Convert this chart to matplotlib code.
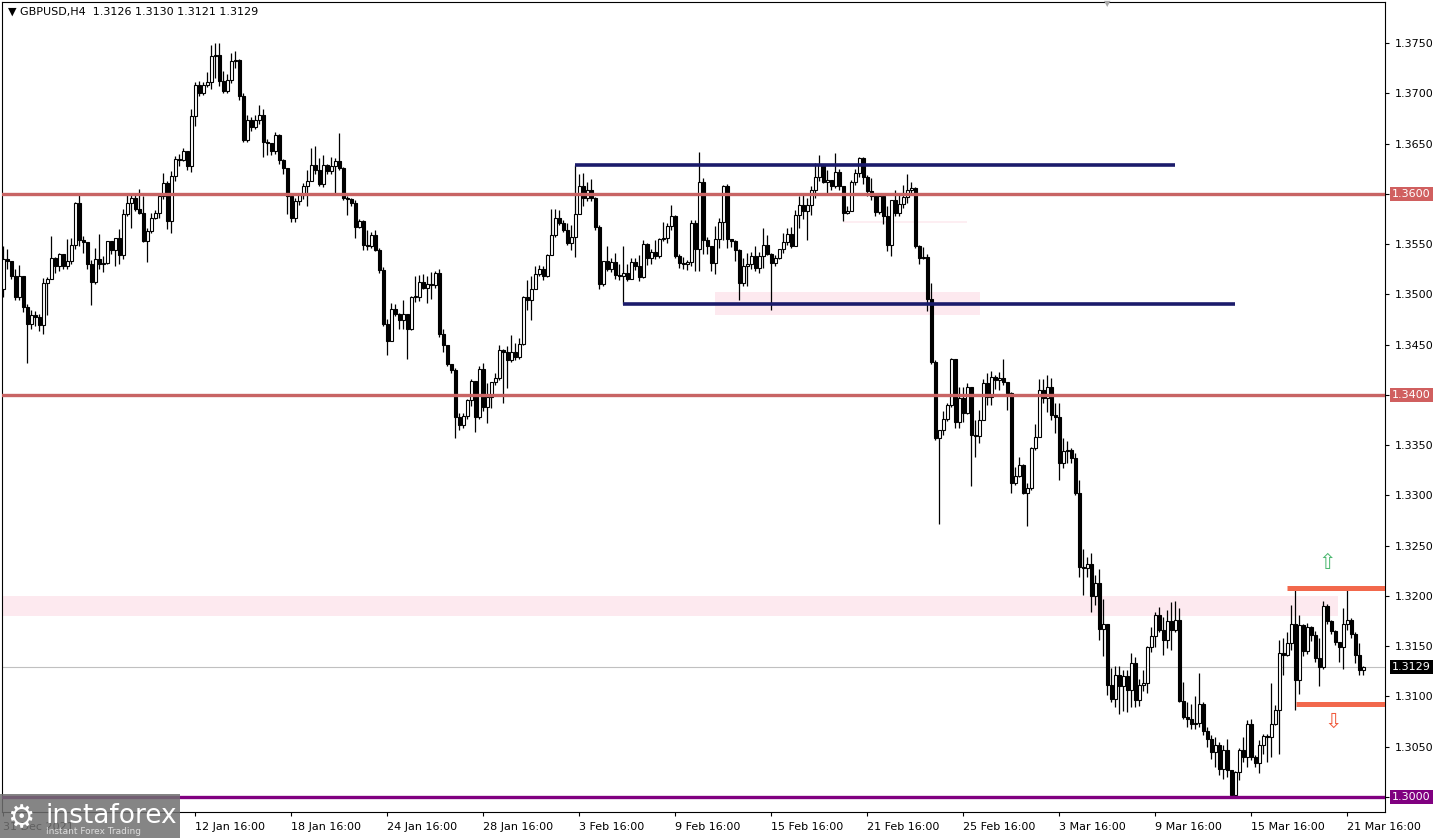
import matplotlib
matplotlib.use("Agg")
import matplotlib.pyplot as plt
from matplotlib.patches import Rectangle
import numpy as np

# GBPUSD H4 candles, values in pips above 1.3000 (open = previous close)
BASE = 1.3000
first_open = 505
closes = [
    535, 533, 518, 498, 518, 488, 471, 480, 478, 470, 511, 515, 536, 528, 540, 528, 533, 549, 591, 554,
    552, 530, 512, 535, 530, 531, 553, 544, 556, 539, 580, 591, 596, 585, 581, 553, 563, 576, 581, 598,
    611, 573, 618, 635, 634, 643, 628, 678, 708, 700, 708, 711, 737, 738, 712, 702, 713, 732, 733, 698,
    654, 674, 667, 674, 679, 652, 651, 643, 659, 634, 626, 598, 576, 593, 599, 608, 613, 629, 624, 610,
    629, 623, 628, 633, 626, 596, 595, 591, 567, 573, 549, 548, 559, 544, 524, 471, 454, 486, 481, 475,
    481, 466, 498, 498, 512, 506, 510, 509, 521, 461, 450, 431, 425, 378, 370, 379, 395, 414, 378, 426,
    388, 398, 413, 417, 445, 443, 435, 443, 438, 451, 498, 495, 505, 520, 525, 518, 539, 559, 576, 571,
    564, 551, 557, 580, 608, 596, 604, 596, 567, 510, 533, 525, 532, 519, 518, 521, 515, 532, 528, 517,
    550, 536, 542, 538, 555, 556, 568, 578, 538, 531, 530, 532, 571, 545, 612, 554, 548, 531, 555, 572,
    608, 555, 553, 544, 511, 528, 530, 538, 526, 538, 549, 540, 531, 536, 545, 552, 560, 548, 579, 589,
    583, 589, 604, 617, 629, 612, 614, 608, 622, 608, 581, 583, 612, 621, 636, 617, 603, 598, 582, 598,
    578, 549, 594, 581, 590, 597, 604, 606, 548, 536, 537, 496, 433, 357, 365, 376, 390, 436, 373, 397,
    382, 408, 360, 359, 375, 412, 398, 418, 415, 417, 413, 402, 312, 319, 330, 302, 307, 347, 358, 405,
    397, 408, 380, 378, 332, 344, 345, 337, 302, 229, 228, 232, 200, 213, 167, 172, 111, 98, 121, 110,
    120, 106, 133, 97, 111, 113, 149, 160, 181, 166, 156, 175, 166, 176, 96, 80, 78, 73, 74, 93,
    66, 58, 45, 52, 28, 47, 27, 2, 25, 47, 40, 73, 40, 34, 52, 61, 60, 73, 87, 143,
    141, 153, 172, 116, 171, 145, 169, 161, 138, 129, 190, 175, 165, 154, 149, 172, 176, 162, 141, 126,
    129,
]
highs = [
    548, 545, 530, 525, 529, 518, 491, 485, 484, 481, 516, 517, 558, 537, 541, 540, 555, 556, 592, 599,
    558, 552, 534, 546, 560, 538, 553, 553, 556, 565, 585, 600, 601, 600, 605, 598, 566, 581, 584, 598,
    621, 613, 623, 638, 640, 646, 643, 685, 711, 712, 711, 721, 748, 750, 750, 722, 719, 740, 742, 734,
    700, 679, 677, 679, 689, 685, 655, 651, 662, 660, 635, 626, 599, 596, 601, 611, 624, 646, 648, 636,
    639, 630, 637, 636, 661, 627, 598, 596, 594, 575, 574, 564, 562, 564, 546, 527, 476, 492, 491, 482,
    495, 481, 499, 518, 519, 520, 518, 522, 523, 525, 466, 450, 431, 427, 382, 382, 396, 416, 413, 429,
    432, 412, 413, 422, 450, 446, 449, 460, 452, 457, 499, 514, 518, 528, 529, 528, 540, 585, 585, 584,
    574, 571, 569, 629, 620, 621, 612, 615, 597, 569, 533, 548, 536, 541, 530, 548, 530, 536, 536, 539,
    554, 551, 545, 554, 556, 572, 571, 589, 579, 540, 537, 534, 574, 574, 642, 616, 557, 548, 568, 576,
    609, 610, 555, 554, 545, 536, 541, 542, 548, 542, 566, 559, 541, 539, 545, 561, 566, 567, 584, 598,
    600, 596, 608, 631, 639, 627, 624, 614, 641, 625, 608, 588, 614, 625, 637, 637, 619, 616, 600, 600,
    601, 588, 594, 604, 601, 609, 620, 612, 607, 549, 547, 540, 511, 435, 365, 384, 392, 437, 436, 408,
    408, 412, 408, 375, 385, 416, 422, 424, 420, 423, 436, 413, 403, 328, 338, 331, 312, 348, 371, 416,
    416, 420, 417, 392, 392, 357, 354, 347, 342, 315, 247, 239, 243, 221, 227, 197, 171, 128, 130, 130,
    126, 126, 143, 139, 117, 126, 150, 169, 184, 189, 179, 186, 194, 195, 188, 114, 95, 93, 100, 123,
    95, 70, 62, 60, 55, 52, 58, 26, 26, 49, 60, 77, 78, 42, 57, 63, 63, 113, 92, 156,
    158, 164, 191, 210, 181, 172, 173, 170, 165, 158, 195, 192, 176, 166, 154, 188, 209, 178, 164, 153,
    130,
]
lows = [
    498, 525, 515, 495, 495, 483, 432, 466, 469, 464, 461, 480, 515, 521, 523, 525, 525, 530, 545, 548,
    541, 525, 490, 510, 525, 522, 530, 540, 528, 530, 535, 578, 566, 583, 580, 552, 532, 561, 575, 576,
    595, 565, 561, 613, 628, 633, 624, 622, 668, 698, 699, 706, 704, 715, 707, 700, 700, 710, 725, 694,
    652, 652, 663, 665, 670, 637, 639, 639, 640, 630, 620, 580, 572, 572, 589, 595, 588, 613, 620, 608,
    607, 620, 620, 601, 624, 594, 579, 588, 556, 566, 544, 544, 546, 543, 521, 469, 440, 454, 479, 466,
    466, 436, 465, 493, 494, 505, 492, 496, 506, 458, 443, 429, 422, 357, 365, 367, 376, 389, 363, 376,
    384, 372, 387, 410, 415, 392, 407, 433, 435, 436, 450, 485, 475, 505, 518, 514, 517, 540, 557, 569,
    562, 549, 544, 537, 580, 588, 593, 593, 564, 505, 508, 523, 522, 515, 514, 491, 513, 515, 524, 513,
    516, 529, 530, 535, 536, 553, 551, 564, 536, 526, 525, 524, 528, 523, 523, 540, 540, 523, 520, 546,
    554, 546, 547, 533, 495, 508, 508, 525, 523, 521, 526, 539, 485, 528, 535, 541, 549, 546, 549, 566,
    575, 554, 579, 596, 613, 611, 601, 604, 606, 604, 573, 580, 584, 609, 617, 610, 598, 594, 578, 580,
    570, 543, 538, 578, 578, 586, 591, 601, 546, 530, 535, 484, 431, 355, 272, 360, 374, 388, 367, 367,
    373, 381, 309, 338, 352, 375, 390, 390, 406, 405, 410, 385, 302, 310, 318, 301, 270, 305, 345, 358,
    392, 383, 375, 362, 315, 327, 332, 332, 300, 219, 201, 219, 184, 191, 156, 140, 101, 95, 90, 83,
    86, 85, 90, 90, 91, 105, 103, 144, 149, 164, 141, 148, 146, 164, 95, 78, 70, 68, 68, 70,
    62, 50, 38, 30, 22, 18, 20, 0, 1, 17, 35, 30, 37, 30, 24, 43, 35, 40, 72, 43,
    121, 140, 146, 87, 102, 140, 142, 155, 134, 110, 127, 172, 162, 151, 134, 127, 166, 158, 133, 121,
    121,
]

date_bars = [0, 48, 72, 96, 120, 144, 168, 192, 216, 240, 264, 288, 312, 336]
date_labels = ["31 Dec 2021", "12 Jan 16:00", "18 Jan 16:00", "24 Jan 16:00", "28 Jan 16:00",
               "3 Feb 16:00", "9 Feb 16:00", "15 Feb 16:00", "21 Feb 16:00", "25 Feb 16:00",
               "3 Mar 16:00", "9 Mar 16:00", "15 Mar 16:00", "21 Mar 16:00"]

# levels drawn on the chart
red_levels = [1.3600, 1.3400]
support_level = 1.3000
range_top, range_bottom = 1.3629, 1.3491
breakout_up, breakout_down = 1.3208, 1.3093
last_price = 1.3129

closes_p = BASE + np.array(closes) / 10000
highs_p = BASE + np.array(highs) / 10000
lows_p = BASE + np.array(lows) / 10000
opens_p = np.concatenate([[BASE + first_open / 10000], closes_p[:-1]])
highs_p = np.maximum(highs_p, np.maximum(opens_p, closes_p))
lows_p = np.minimum(lows_p, np.minimum(opens_p, closes_p))
x = np.arange(len(closes_p))

W, H = 1441, 838
fig = plt.figure(figsize=(W / 100, H / 100), dpi=100)
ax = fig.add_axes([2 / W, 26 / H, 1383 / W, 810 / H])
ax.set_xlim(-0.325, 345.425)
ax.set_ylim(1.298507, 1.379104)

# zones
ax.axhspan(1.3180, 1.3200, xmin=0, xmax=(333.7 + 0.325) / 345.75, color="#fde9ef", zorder=0, lw=0)
ax.fill_between([177.9, 244.2], 1.3480, 1.3502, color="#fde9ef", zorder=0, lw=0)
ax.fill_between([209.9, 240.9], 1.3571, 1.3573, color="#fdeef2", zorder=0, lw=0)

# candles
ax.vlines(x, lows_p, highs_p, color="black", lw=0.9, zorder=2)
up = closes_p >= opens_p
body_lo = np.minimum(opens_p, closes_p)
body_h = np.maximum(np.abs(closes_p - opens_p), 0.00003)
ax.bar(x[up], body_h[up], bottom=body_lo[up], width=0.62, color="white",
       edgecolor="black", lw=0.8, zorder=3)
ax.bar(x[~up], body_h[~up], bottom=body_lo[~up], width=0.62, color="black",
       edgecolor="black", lw=0.8, zorder=3)

# level lines
for lvl in red_levels:
    ax.axhline(lvl, color="#c86464", lw=2.4, zorder=4)
ax.axhline(support_level, color="#800080", lw=2.4, zorder=4)
ax.axhline(last_price, color="#c0c0c0", lw=0.8, zorder=1)
ax.hlines(range_top, 142.9, 293.0, color="#1b1b6b", lw=2.6, zorder=4)
ax.hlines(range_bottom, 154.9, 307.9, color="#1b1b6b", lw=2.6, zorder=4)
ax.hlines(breakout_up, 320.9, 345.5, color="#f2684c", lw=3.6, zorder=4)
ax.hlines(breakout_down, 323.2, 345.5, color="#f2684c", lw=3.6, zorder=4)
ax.text(331.0, 1.3233, "⇧", color="#4cb870", fontsize=15, ha="center", va="center", zorder=5)
ax.text(332.4, 1.3075, "⇩", color="#f05a3c", fontsize=15, ha="center", va="center", zorder=5)

# axes styling
for s in ax.spines.values():
    s.set_color("black")
    s.set_linewidth(0.8)
ax.yaxis.tick_right()
yt = np.round(np.arange(1.3000, 1.37501, 0.0050), 4)
ax.set_yticks(yt)
hidden = {1.36, 1.34, 1.30}
ax.set_yticklabels(["" if round(v, 4) in hidden else f"{v:.4f}" for v in yt])
ax.tick_params(axis="y", direction="out", length=3, pad=4, labelsize=8, width=0.8)
ax.set_xticks(date_bars)
ax.set_xticklabels(date_labels)
ax.tick_params(axis="x", direction="out", length=3, pad=4, labelsize=8, width=0.8)
for lab in ax.get_xticklabels():
    lab.set_horizontalalignment("left")

def price_tag(y, text, bg):
    ax.annotate(text, xy=(1.0, y), xycoords=("axes fraction", "data"),
                xytext=(5, 0), textcoords="offset points", ha="left", va="center",
                fontsize=8, color="white",
                bbox=dict(boxstyle="square,pad=0.18", fc=bg, ec="none"), zorder=6,
                annotation_clip=False)

price_tag(1.3600, "1.3600", "#d05f5f")
price_tag(1.3400, "1.3400", "#d05f5f")
price_tag(last_price, f"{last_price:.4f}", "black")
price_tag(support_level, "1.3000", "#800080")

# header and chart-shift marker
fig.text(8 / W, 1 - 12 / H, "▼ GBPUSD,H4  1.3126 1.3130 1.3121 1.3129", fontsize=8,
         va="center", ha="left")
fig.text(1107 / W, 1 - 4 / H, "▼", fontsize=6, color="#a8a8a8", ha="center", va="center")

# watermark logo
fig.add_artist(Rectangle((0, 0), 180 / W, 44 / H, transform=fig.transFigure,
                         fc="#707070", alpha=0.85, ec="none", zorder=10))
fig.text(21 / W, 19 / H, "⚙", fontsize=22, color="white", ha="center", va="center", zorder=11)
fig.text(46 / W, 22 / H, "instaforex", fontsize=19, color="white", ha="left", va="center",
         zorder=11)
fig.text(46 / W, 7 / H, "Instant Forex Trading", fontsize=6.5, color="#dddddd", ha="left",
         va="center", zorder=11)

fig.savefig("out.png", dpi=100)
